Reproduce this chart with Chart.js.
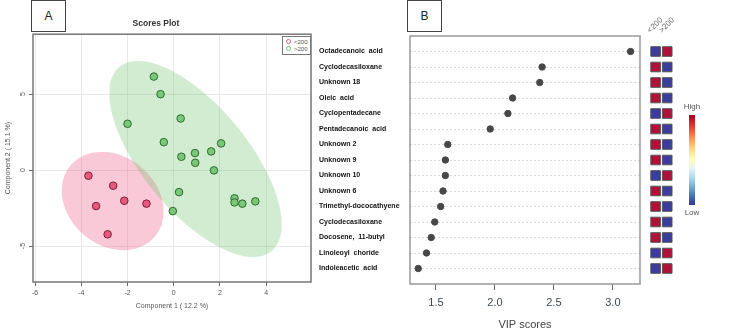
<!DOCTYPE html>
<html><head><meta charset="utf-8">
<script src="https://cdn.jsdelivr.net/npm/chart.js@4/dist/chart.umd.min.js"></script>
<style>
body{margin:0;width:743px;height:336px;background:#fff;position:relative;overflow:hidden;font-family:"Liberation Sans",Arial,sans-serif}
canvas{position:absolute;top:0}
.panel{position:absolute;top:0;width:35px;height:32px;border:1px solid #444;box-sizing:border-box;font-size:12px;color:#222;text-align:center;line-height:31px;background:#fff}
#lg{position:absolute;left:282px;top:36px;width:29px;height:19px;border:1px solid #777;background:#fff;font-size:6px;line-height:7px;color:#555;padding:2px 0 0 3px;box-sizing:border-box;z-index:2}
#lg .dot{display:inline-block;width:3px;height:3px;border:1px solid;border-radius:50%;margin-right:3px;vertical-align:0}
#cbar{position:absolute;left:689px;top:115px;width:6px;height:90px;background:linear-gradient(to bottom,#a50026,#d73027,#f46d43,#fdae61,#fee090,#ffffbf,#e0f3f8,#abd9e9,#74add1,#4575b4,#313695)}
.cl{position:absolute;font-size:8px;color:#555;width:30px;text-align:center}
</style></head><body>
<canvas id="c1" width="316" height="336" style="left:0"></canvas>
<canvas id="c2" width="330" height="336" style="left:315px"></canvas>
<canvas id="c3" width="50" height="336" style="left:642px"></canvas>
<div class="panel" style="left:31px">A</div>
<div class="panel" style="left:407px">B</div>
<div id="lg"></div>
<div id="cbar"></div>
<div class="cl" style="left:677px;top:102px">High</div>
<div class="cl" style="left:677px;top:208px">Low</div>
<script>
// ---- Panel A: PLS-DA scores ----
const groupLabels = ['<200', '>200'];
const lowX  = [-3.69, -2.62, -2.14, -1.18, -3.36, -2.86];
const lowY  = [-0.37, -1.03, -2.02, -2.21, -2.37, -4.23];
const highX = [-0.86, -0.57, 0.30, -2.00, -0.43, 2.05, 1.62, 0.92, 0.33, 0.93, 1.74, 0.23, -0.04, 2.63, 2.63, 2.97, 3.53];
const highY = [6.16, 5.00, 3.40, 3.05, 1.84, 1.76, 1.23, 1.12, 0.88, 0.48, -0.02, -1.45, -2.70, -1.86, -2.13, -2.21, -2.06];
const scoreXTicks = [-6, -4, -2, 0, 2, 4];
const scoreYTicks = [-5, 0, 5];

// ---- Panel B: VIP scores ----
const compounds = ['Octadecanoic  acid', 'Cyclodecasiloxane', 'Unknown 18', 'Oleic  acid', 'Cyclopentadecane',
  'Pentadecanoic  acid', 'Unknown 2', 'Unknown 9', 'Unknown 10', 'Unknown 6', 'Trimethyl-dococathyene',
  'Cyclodecasiloxane', 'Docosene,  11-butyl', 'Linoleoyl  choride', 'Indoleacetic  acid'];
const vipScores = [3.15, 2.40, 2.38, 2.15, 2.11, 1.96, 1.60, 1.58, 1.58, 1.56, 1.54, 1.49, 1.46, 1.42, 1.35];
const vipTicks = [1.5, 2.0, 2.5, 3.0];
// relative concentration (1 = high, 0 = low) for each group
const levelLt200 = [0, 1, 1, 1, 0, 1, 1, 1, 0, 1, 1, 1, 1, 0, 0];
const levelGt200 = [1, 0, 0, 0, 1, 0, 0, 0, 1, 0, 0, 0, 0, 1, 1];

const PINK = '#e8577d', GREEN = '#78c878';
const RED = '#b0103a', BLUE = '#3a3ca0';

Chart.defaults.font.family = "'Liberation Sans', Arial, sans-serif";

function confEllipse(xs, ys, level) {
  const n = xs.length;
  const mx = xs.reduce((a, b) => a + b, 0) / n, my = ys.reduce((a, b) => a + b, 0) / n;
  let sxx = 0, syy = 0, sxy = 0;
  for (let i = 0; i < n; i++) { const dx = xs[i] - mx, dy = ys[i] - my; sxx += dx * dx; syy += dy * dy; sxy += dx * dy; }
  sxx /= n - 1; syy /= n - 1; sxy /= n - 1;
  const t = Math.sqrt(-2 * Math.log(1 - level));
  const tr = sxx + syy, det = sxx * syy - sxy * sxy, d = Math.sqrt(tr * tr / 4 - det);
  const l1 = tr / 2 + d, l2 = tr / 2 - d, ang = 0.5 * Math.atan2(2 * sxy, sxx - syy);
  const pts = [];
  for (let k = 0; k <= 100; k++) {
    const th = 2 * Math.PI * k / 100;
    const u = t * Math.sqrt(l1) * Math.cos(th), v = t * Math.sqrt(l2) * Math.sin(th);
    pts.push({ x: mx + u * Math.cos(ang) - v * Math.sin(ang), y: my + u * Math.sin(ang) + v * Math.cos(ang) });
  }
  return pts;
}

const framePlugin = (color, width) => ({
  id: 'frame',
  afterDraw(chart) {
    const { ctx, chartArea: a } = chart;
    ctx.save(); ctx.strokeStyle = color; ctx.lineWidth = width;
    ctx.strokeRect(a.left, a.top, a.right - a.left, a.bottom - a.top);
    ctx.restore();
  }
});

// legend (HTML)
document.getElementById('lg').innerHTML =
  `<div><span class="dot" style="border-color:${PINK}"></span>${groupLabels[0].replace('<', '&lt;')}</div>` +
  `<div><span class="dot" style="border-color:${GREEN}"></span>${groupLabels[1].replace('>', '&gt;')}</div>`;

new Chart(document.getElementById('c1'), {
  type: 'scatter',
  data: {
    datasets: [
      { label: groupLabels[0], data: lowX.map((x, i) => ({ x, y: lowY[i] })), backgroundColor: PINK, borderColor: '#7a2038', borderWidth: 1, pointRadius: 3.8 },
      { label: groupLabels[1], data: highX.map((x, i) => ({ x, y: highY[i] })), backgroundColor: GREEN, borderColor: '#2e6b2e', borderWidth: 1, pointRadius: 3.8 },
      { type: 'line', label: 'e2', data: confEllipse(highX, highY, 0.95), fill: 'shape', backgroundColor: 'rgba(115,195,115,0.32)', borderWidth: 0, borderColor: 'rgba(0,0,0,0)', pointRadius: 0, tension: 0 },
      { type: 'line', label: 'e1', data: confEllipse(lowX, lowY, 0.95), fill: 'shape', backgroundColor: 'rgba(238,105,145,0.36)', borderWidth: 0, borderColor: 'rgba(0,0,0,0)', pointRadius: 0, tension: 0 }
    ]
  },
  options: {
    responsive: false, animation: false,
    layout: { padding: { right: 4, left: 0 } },
    plugins: {
      legend: { display: false }, tooltip: { enabled: false },
      title: { display: true, text: 'Scores Plot', font: { size: 8.5, weight: 'bold' }, color: '#333', padding: { top: 19, bottom: 5 } }
    },
    scales: {
      x: {
        type: 'linear', min: -6.09, max: 5.94,
        afterBuildTicks: s => { s.ticks = scoreXTicks.map(v => ({ value: v })); },
        ticks: { font: { size: 7 }, color: '#555', padding: 3 },
        grid: { color: '#e8e8e8', tickColor: '#666', tickLength: 4 },
        border: { display: false },
        title: { display: true, text: 'Component 1 ( 12.2 %)', font: { size: 7 }, color: '#555', padding: { top: 2, bottom: 26 } },
        afterFit: s => { s.height = 54; }
      },
      y: {
        type: 'linear', min: -7.37, max: 8.95,
        afterBuildTicks: s => { s.ticks = scoreYTicks.map(v => ({ value: v })); },
        ticks: { font: { size: 7 }, color: '#555', padding: 3, minRotation: 90, maxRotation: 90, crossAlign: 'center' },
        grid: { color: '#e8e8e8', tickColor: '#666', tickLength: 4 },
        border: { display: false },
        title: { display: true, text: 'Component 2 ( 15.1 %)', font: { size: 7 }, color: '#555', padding: { top: 4, bottom: 0 } },
        afterFit: s => { s.width = 33; }
      }
    }
  },
  plugins: [framePlugin('#777', 1.5)]
});

new Chart(document.getElementById('c2'), {
  type: 'scatter',
  data: { datasets: [{ label: 'VIP', data: vipScores.map((v, i) => ({ x: v, y: i })), backgroundColor: '#474747', borderColor: '#474747', pointRadius: 3.2 }] },
  options: {
    responsive: false, animation: false,
    layout: { padding: { left: 4, right: 4, top: 36, bottom: 0 } },
    plugins: { legend: { display: false }, tooltip: { enabled: false } },
    scales: {
      x: {
        type: 'linear', min: 1.28, max: 3.23,
        afterBuildTicks: s => { s.ticks = vipTicks.map(v => ({ value: v })); },
        ticks: { callback: v => Number(v).toFixed(1), font: { size: 11 }, color: '#3f4a55', padding: 6 },
        grid: { drawOnChartArea: false, tickLength: 6, tickColor: '#666' },
        border: { display: false },
        title: { display: true, text: 'VIP scores', font: { size: 11 }, color: '#444', padding: { top: 0, bottom: 4 } },
        afterFit: s => { s.height = 52; }
      },
      y: {
        type: 'linear', min: -1, max: 15, reverse: true,
        afterBuildTicks: s => { s.ticks = compounds.map((_, i) => ({ value: i })); },
        ticks: { callback: v => compounds[v], crossAlign: 'far', autoSkip: false, font: { size: 7, weight: 'bold' }, color: '#111', padding: 0 },
        grid: { color: '#d8d8d8', drawTicks: false },
        border: { display: false, dash: [2, 2] },
        afterFit: s => { s.width = 91; }
      }
    }
  },
  plugins: [framePlugin('#999', 1.5)]
});

new Chart(document.getElementById('c3'), {
  type: 'scatter',
  data: {
    datasets: [
      { label: groupLabels[0], data: levelLt200.map((h, i) => ({ x: 0, y: i })), pointBackgroundColor: levelLt200.map(h => h ? RED : BLUE), pointBorderColor: '#555', pointBorderWidth: 1, pointStyle: 'rect', pointRadius: 6.8 },
      { label: groupLabels[1], data: levelGt200.map((h, i) => ({ x: 1, y: i })), pointBackgroundColor: levelGt200.map(h => h ? RED : BLUE), pointBorderColor: '#555', pointBorderWidth: 1, pointStyle: 'rect', pointRadius: 6.8 }
    ]
  },
  options: {
    responsive: false, animation: false,
    layout: { padding: { left: 6, right: 19, top: 0, bottom: 52 } },
    plugins: { legend: { display: false }, tooltip: { enabled: false } },
    scales: {
      x: {
        type: 'linear', position: 'top', min: -0.5, max: 1.5,
        afterBuildTicks: s => { s.ticks = [{ value: 0 }, { value: 1 }]; },
        ticks: { callback: v => groupLabels[v], minRotation: 45, maxRotation: 45, font: { size: 8 }, color: '#666', padding: 1 },
        grid: { display: false, drawTicks: false },
        border: { display: false },
        afterFit: s => { s.height = 36; }
      },
      y: { type: 'linear', display: false, min: -1, max: 15, reverse: true }
    }
  }
});
</script>
</body></html>
